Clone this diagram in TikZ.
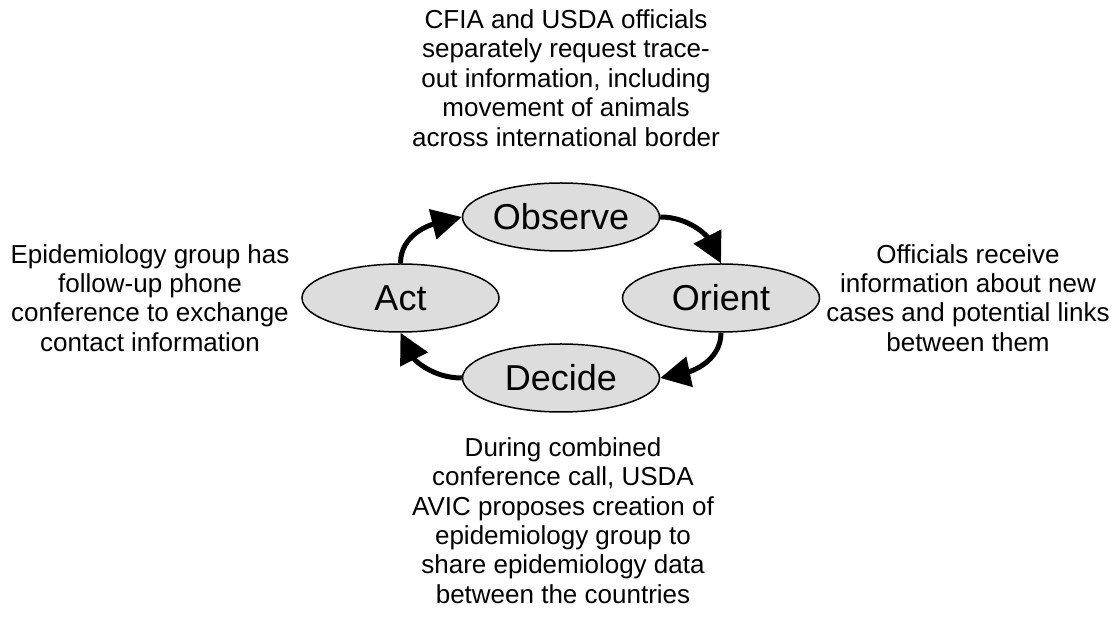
\documentclass[tikz,border=0pt]{standalone}
\usepackage{fontspec}
\setmainfont{Liberation Sans}
\usetikzlibrary{arrows.meta,shapes.geometric}

\definecolor{stagefill}{HTML}{DDDDDD}

\tikzset{
  stage/.style={ellipse, draw=black, line width=1.5pt, fill=stagefill,
    minimum width=197pt, minimum height=68pt, inner sep=0pt,
    font=\fontsize{36}{40}\selectfont},
  note/.style={align=center, inner sep=0pt,
    font=\fontsize{26}{29.4}\selectfont},
  cyclearrow/.style={line width=5pt,
    -{Triangle[length=30pt,width=30pt]}}
}

\begin{document}
\begin{tikzpicture}[x=1pt,y=1pt]
  \useasboundingbox (0,0) rectangle (1117,623);

  % the four stages of the loop
  \node[stage] (obs) at (561,406) {Observe};
  \node[stage] (ori) at (721,325) {Orient};
  \node[stage] (dec) at (561,245) {Decide};
  \node[stage] (act) at (400.5,325) {Act};

  % descriptions of each stage
  \node[note] (obsnote) at (566,545) {CFIA and USDA officials\\separately request trace-\\out information, including\\movement of animals\\across international border};
  \node[note] (orinote) at (968,325) {Officials receive\\information about new\\cases and potential links\\between them};
  \node[note] (decnote) at (563,102.5) {During combined\\conference call, USDA\\AVIC proposes creation of\\epidemiology group to\\share epidemiology data\\between the countries};
  \node[note] (actnote) at (150,325) {Epidemiology group has\\follow-up phone\\conference to exchange\\contact information};

  % curved arrows around the cycle
  \draw[cyclearrow] (act.north) to[out=90,in=194] (obs.west);
  \draw[cyclearrow] (obs.east) to[out=0,in=117] (ori.north);
  \draw[cyclearrow] (ori.south) to[out=270,in=12] (dec.east);
  \draw[cyclearrow] (dec.west) to[out=180,in=297] (act.south);
\end{tikzpicture}
\end{document}
